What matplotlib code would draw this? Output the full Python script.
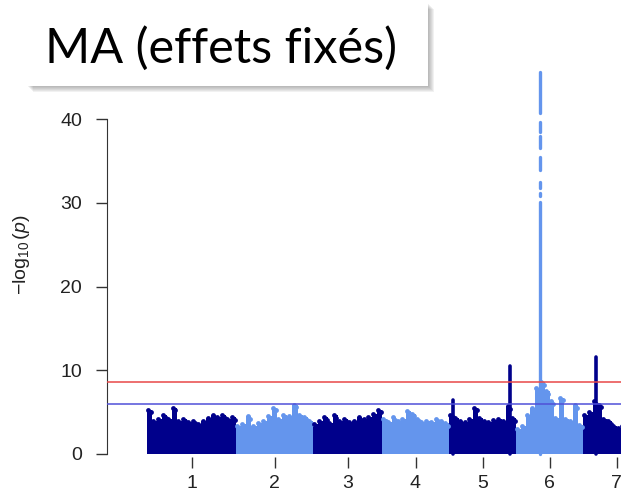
import numpy as np
import matplotlib
matplotlib.use('Agg')
import matplotlib.pyplot as plt
from matplotlib.patches import Rectangle

plt.rcParams['font.family'] = ['Liberation Sans', 'DejaVu Sans']
plt.rcParams['mathtext.fontset'] = 'custom'
plt.rcParams['mathtext.rm'] = 'Liberation Sans'
plt.rcParams['mathtext.it'] = 'Liberation Sans:italic'

# ---- data ----
chrom_names = ['1', '2', '3', '4', '5', '6', '7']
chrom_sizes = [89, 77, 69, 67, 67, 67, 67]
chrom_colors = ['#00008b', '#6495ed']

# upper envelope of -log10(p) along each chromosome
chr1 = [5.3, 4.0, 4.2, 4.6, 4.2, 5.5, 3.9, 4.2, 3.8, 4.0, 3.6, 4.0, 4.3, 4.6, 4.4, 4.6, 4.2, 4.4]
chr2 = [3.3, 3.6, 4.5, 3.4, 3.7, 4.0, 4.5, 5.5, 4.2, 4.6, 4.5, 5.9, 4.6, 4.4, 3.9]
chr3 = [3.6, 4.0, 4.4, 3.7, 4.6, 4.0, 4.2, 3.8, 4.0, 4.4, 4.2, 4.4, 4.8, 5.3]
chr4 = [4.2, 3.8, 4.4, 4.0, 4.2, 5.1, 4.8, 4.2, 3.8, 4.0, 3.8, 4.2, 3.9, 3.7]
chr5 = [4.7, 4.3, 3.9, 3.8, 4.2, 5.5, 4.3, 3.9, 3.8, 4.1, 4.2, 3.9, 5.7, 4.3]
chr6 = [3.0, 3.4, 4.7, 5.5, 7.9, 8.6, 7.5, 6.3, 4.3, 6.7, 4.2, 4.0, 5.8, 3.5]
chr7 = [4.6, 5.0, 6.3, 5.9, 4.2, 3.9, 3.3, 3.1, 3.3, 3.4, 3.2, 3.5, 3.3, 3.4]
envelopes = [chr1, chr2, chr3, chr4, chr5, chr6, chr7]

# narrow peaks: chromosome, relative position inside it, top value
peak_chrom = [5, 5, 6, 7]
peak_pos = [0.055, 0.91, 0.36, 0.19]
peak_top = [6.5, 10.5, 45.6, 11.6]
# visible pieces of the big chr6 column (it has gaps near the top)
chr6_pieces = [(0, 30.1), (30.8, 31.2), (31.8, 32.5), (33.9, 35.5),
               (36.6, 38.0), (38.5, 39.7), (40.7, 45.6)]

red_line = 8.57
blue_line = 5.97

fig = plt.figure(figsize=(6.21, 4.98), dpi=100)
ax = fig.add_axes([107 / 621, 41 / 498, 1 - 107 / 621, 397 / 498])

offsets = np.concatenate([[0], np.cumsum(chrom_sizes)[:-1]])
centers = offsets + np.array(chrom_sizes) / 2

for i, env in enumerate(envelopes):
    c = chrom_colors[i % 2]
    n = len(env)
    w = chrom_sizes[i] / n
    edges = offsets[i] + np.arange(n + 1) * w
    xs = (edges[:-1] + edges[1:]) / 2
    ax.stairs(env, edges, baseline=0, fill=True, color=c, zorder=2)
    ax.scatter(xs - w / 4, env, s=12, color=c, linewidths=0, zorder=3)
    ax.scatter(xs + w / 4, np.array(env) - 0.3, s=12, color=c, linewidths=0, zorder=3)

for ch, pos, top in zip(peak_chrom, peak_pos, peak_top):
    c = chrom_colors[(ch - 1) % 2]
    x = offsets[ch - 1] + pos * chrom_sizes[ch - 1]
    if ch == 6:
        for lo, hi in chr6_pieces:
            ax.plot([x, x], [lo, hi], color=c, lw=2.4, solid_capstyle='round', zorder=3)
    else:
        ax.plot([x, x], [0, top], color=c, lw=2.6, solid_capstyle='round', zorder=3)

ax.axhline(red_line, color='#e84848', lw=1.1, zorder=4)
ax.axhline(blue_line, color='#5050d8', lw=1.1, zorder=4)

ax.set_xlim(-40, 474)
ax.set_ylim(-0.36, 47.07)
ax.set_xticks(centers)
ax.set_xticklabels(chrom_names)
ax.set_yticks([0, 10, 20, 30, 40])
ax.tick_params(axis='both', labelsize=14, colors='#333333', labelcolor='#222222',
               length=8, width=1)
ax.tick_params(axis='y', pad=10)
ax.tick_params(axis='x', pad=5)
for s in ['top', 'right', 'bottom']:
    ax.spines[s].set_visible(False)
ax.spines['left'].set_bounds(0, 40)
ax.spines['left'].set_color('#333333')

fig.text(22 / 621, 1 - 255 / 498, r'$-\log_{10}(\mathit{p})$', rotation=90,
         ha='center', va='center', fontsize=14, color='#222222')

# title box with soft shadow
bx, by, bw, bh = 27 / 621, (498 - 86) / 498, 401 / 621, 83 / 498
for k in range(6, 0, -1):
    fig.add_artist(Rectangle((bx + k / 621, by - k / 498), bw, bh,
                             transform=fig.transFigure, facecolor='#555555',
                             alpha=0.08, linewidth=0, zorder=10))
fig.add_artist(Rectangle((bx, by), bw, bh, transform=fig.transFigure,
                         facecolor='white', linewidth=0, zorder=11))
fig.text(45 / 621, 1 - 48 / 498, 'MA (effets fixés)', family=['Lato', 'DejaVu Sans'],
         fontsize=35, ha='left', va='center', color='black', zorder=12)

fig.savefig('out.png', dpi=100)
